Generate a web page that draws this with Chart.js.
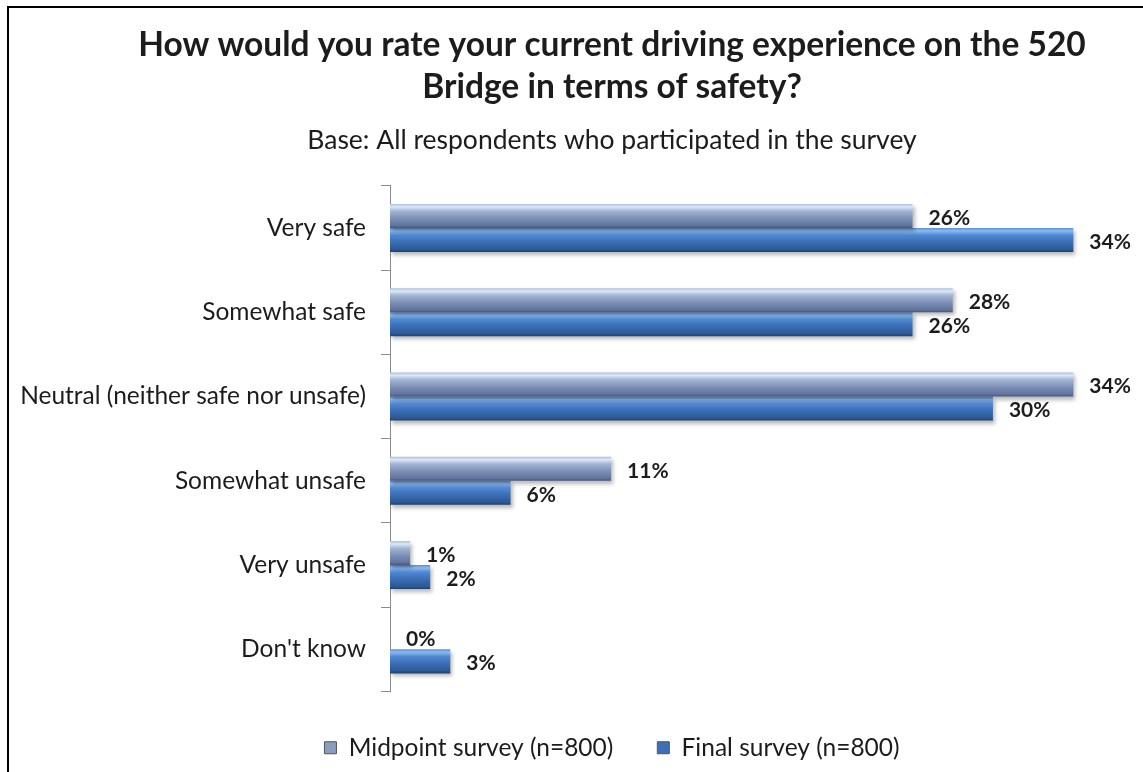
<!DOCTYPE html>
<html>
<head>
<meta charset="utf-8">
<title>520 Bridge safety rating</title>
<script src="https://cdn.jsdelivr.net/npm/chart.js@4"></script>
<style>
  html, body { margin: 0; padding: 0; background: #fff; overflow: hidden; }
  .frame {
    position: absolute; left: 7px; top: 6px;
    width: 1240px; height: 820px;
    border: 2px solid #000; overflow: hidden; background: #fff;
  }
  .frame .wrap { position: absolute; left: 1px; top: 1px; width: 1204px; height: 763px; }
</style>
</head>
<body>
<div class="frame"><div class="wrap"><canvas id="safetyChart"></canvas></div></div>
<script>
// ---------- Data ----------
const categories = [
  'Very safe',
  'Somewhat safe',
  'Neutral (neither safe nor unsafe)',
  'Somewhat unsafe',
  'Very unsafe',
  "Don't know"
];
const midpointValues = [26, 28, 34, 11, 1, 0];
const finalValues = [34, 26, 30, 6, 2, 3];
const seriesNames = ['Midpoint survey (n=800)', 'Final survey (n=800)'];
const titleLines = ['How would you rate your current driving experience on the 520', 'Bridge in terms of safety?'];
const subtitleText = 'Base: All respondents who participated in the survey';

const FONT = 'Lato';
const TEXT = '#1c1c1c';
const CAT_PCT = 0.57;

// colour stops for the glossy bars, top to bottom
const barStops = [
  [[0, '#aebfd8'], [0.12, '#dbe8f9'], [0.3, '#a3b5d4'], [0.6, '#7c8fb5'], [0.9, '#62749c'], [1, '#44557a']],
  [[0, '#5d8fd0'], [0.12, '#8bbaf1'], [0.3, '#4f88d2'], [0.6, '#3a6db4'], [0.9, '#2c5894'], [1, '#1e3f6e']]
];
const legendFill = ['#8a9cc0', '#3d70b6'];

// ---------- Gradient per bar ----------
function barGradient(context) {
  const chart = context.chart;
  const y = chart.scales.y;
  const di = context.datasetIndex;
  if (!y || context.dataIndex === undefined) return legendFill[di];
  const center = y.getPixelForValue(context.dataIndex);
  const thick = (y.height / categories.length) * CAT_PCT / 2;
  const top = di === 0 ? center - thick : center;
  const g = chart.ctx.createLinearGradient(0, top, 0, top + thick);
  barStops[di].forEach(([p, c]) => g.addColorStop(p, c));
  return g;
}

// ---------- Plugins ----------
const barShadow = {
  id: 'barShadow',
  beforeDatasetsDraw(chart) {
    const ctx = chart.ctx;
    ctx.save();
    ctx.shadowColor = 'rgba(0,0,0,0.28)';
    ctx.shadowBlur = 4;
    ctx.shadowOffsetX = 2;
    ctx.shadowOffsetY = 3;
  },
  afterDatasetsDraw(chart) {
    chart.ctx.restore();
  }
};

const valueLabels = {
  id: 'valueLabels',
  afterDatasetsDraw(chart) {
    const ctx = chart.ctx;
    ctx.save();
    ctx.font = 'bold 21px ' + FONT;
    ctx.fillStyle = TEXT;
    ctx.textAlign = 'left';
    ctx.textBaseline = 'middle';
    chart.data.datasets.forEach((ds, di) => {
      chart.getDatasetMeta(di).data.forEach((bar, i) => {
        ctx.fillText(ds.data[i] + '%', bar.x + 16, bar.y + 2);
      });
    });
    ctx.restore();
  }
};

// ---------- Chart ----------
new Chart(document.getElementById('safetyChart'), {
  type: 'bar',
  data: {
    labels: categories,
    datasets: [
      { label: seriesNames[0], data: midpointValues, backgroundColor: barGradient,
        categoryPercentage: CAT_PCT, barPercentage: 1 },
      { label: seriesNames[1], data: finalValues, backgroundColor: barGradient,
        categoryPercentage: CAT_PCT, barPercentage: 1 }
    ]
  },
  options: {
    indexAxis: 'y',
    responsive: true,
    maintainAspectRatio: false,
    animation: false,
    layout: { padding: { left: 0, right: 0, top: 0, bottom: 2 } },
    plugins: {
      title: {
        display: true,
        text: titleLines,
        color: TEXT,
        font: { family: FONT, size: 33.5, weight: 'bold', lineHeight: 1.254 },
        padding: { top: 15, bottom: 0 }
      },
      subtitle: {
        display: true,
        text: subtitleText,
        color: TEXT,
        font: { family: FONT, size: 26.5, lineHeight: 1.2 },
        padding: { top: 17, bottom: 29 }
      },
      legend: {
        position: 'bottom',
        labels: {
          color: TEXT,
          font: { family: FONT, size: 24.5 },
          boxWidth: 12,
          boxHeight: 12,
          padding: 44,
          generateLabels(chart) {
            return chart.data.datasets.map((ds, i) => ({
              text: ds.label,
              fillStyle: legendFill[i],
              strokeStyle: '#555',
              lineWidth: 1,
              fontColor: TEXT,
              datasetIndex: i
            }));
          }
        }
      },
      tooltip: { enabled: false }
    },
    scales: {
      x: {
        display: false,
        min: 0,
        max: 41
      },
      y: {
        afterFit(scale) { scale.width = 380; },
        border: { display: true, color: '#8c8c8c', width: 1 },
        grid: {
          display: true,
          offset: true,
          drawOnChartArea: false,
          drawTicks: true,
          tickLength: 9,
          color: '#8c8c8c'
        },
        ticks: {
          color: TEXT,
          padding: 15,
          font: { family: FONT, size: 24.5 }
        }
      }
    }
  },
  plugins: [barShadow, valueLabels]
});
</script>
</body>
</html>
